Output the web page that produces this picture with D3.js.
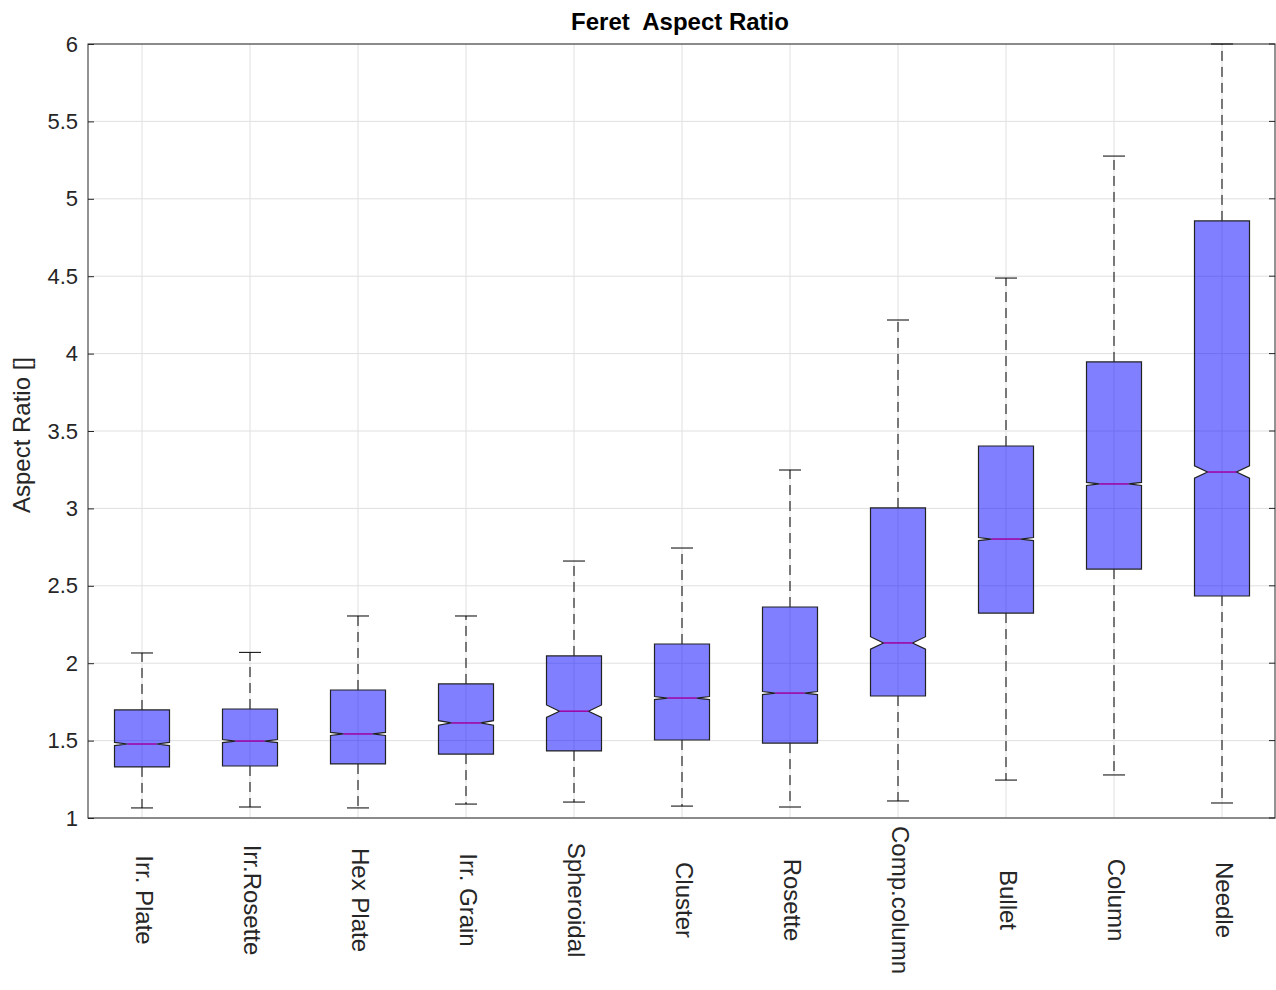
<!DOCTYPE html><html><head><meta charset="utf-8">
<script src="https://cdn.jsdelivr.net/npm/d3@7"></script>
<style>body{margin:0;background:#fff}text{font-family:Arial,"Liberation Sans",sans-serif}</style></head><body>
<svg id="c" width="1276" height="990"></svg>
<script>
const categories=["Irr. Plate","Irr.Rosette","Hex Plate","Irr. Grain","Spheroidal","Cluster","Rosette","Comp.column","Bullet","Column","Needle"];
const whiskerLow=[1.065,1.071,1.065,1.09,1.103,1.077,1.071,1.11,1.245,1.278,1.097];
const q1=[1.330,1.336,1.349,1.413,1.433,1.504,1.484,1.788,2.324,2.608,2.434];
const median=[1.478,1.497,1.543,1.614,1.69,1.775,1.807,2.131,2.802,3.158,3.235];
const q3=[1.698,1.704,1.827,1.866,2.047,2.124,2.363,3.003,3.403,3.946,4.857];
const whiskerHigh=[2.066,2.07,2.305,2.305,2.66,2.744,3.248,4.217,4.488,5.276,6.0];
const notch=[0.01,0.01,0.01,0.015,0.04,0.01,0.01,0.04,0.01,0.01,0.04];
const yTicks=[1,1.5,2,2.5,3,3.5,4,4.5,5,5.5,6];
const L=88,R=1276,T=44,B=818;
const svg=d3.select("#c");
const x=d3.scaleBand().domain(categories).range([L,R]);
const y=d3.scaleLinear().domain([1,6]).range([B,T]);
svg.append("g").selectAll("line").data(yTicks).join("line").attr("x1",L).attr("x2",R).attr("y1",d=>y(d)).attr("y2",d=>y(d)).attr("stroke","#e0e0e0");
svg.append("g").selectAll("line").data(categories).join("line").attr("y1",T).attr("y2",B).attr("x1",d=>x(d)+x.bandwidth()/2).attr("x2",d=>x(d)+x.bandwidth()/2).attr("stroke","#e0e0e0");
const bw=55,inset=13,cap=22;
categories.forEach((c,i)=>{
  const cx=x(c)+x.bandwidth()/2, xl=cx-bw/2, xr=cx+bw/2;
  const g=svg.append("g");
  g.append("line").attr("x1",cx).attr("x2",cx).attr("y1",y(q3[i])).attr("y2",y(whiskerHigh[i])).attr("stroke","#000").attr("stroke-dasharray","10,6");
  g.append("line").attr("x1",cx).attr("x2",cx).attr("y1",y(q1[i])).attr("y2",y(whiskerLow[i])).attr("stroke","#000").attr("stroke-dasharray","10,6");
  [whiskerHigh[i],whiskerLow[i]].forEach(v=>g.append("line").attr("x1",cx-cap/2).attr("x2",cx+cap/2).attr("y1",y(v)).attr("y2",y(v)).attr("stroke","#000"));
  const nu=y(median[i]+notch[i]), nl=y(median[i]-notch[i]), m=y(median[i]);
  const p=[[xl,y(q3[i])],[xr,y(q3[i])],[xr,nu],[xr-inset,m],[xr,nl],[xr,y(q1[i])],[xl,y(q1[i])],[xl,nl],[xl+inset,m],[xl,nu]];
  g.append("path").attr("d","M"+p.join("L")+"Z").attr("fill","rgba(0,0,255,0.5)").attr("stroke","#222").attr("stroke-width",1.2);
  g.append("line").attr("x1",xl+inset).attr("x2",xr-inset).attr("y1",m).attr("y2",m).attr("stroke","#a000a0").attr("stroke-width",1.5);
});
svg.append("rect").attr("x",L).attr("y",T).attr("width",R-L-1).attr("height",B-T).attr("fill","none").attr("stroke","#262626");
const ay=svg.append("g").attr("transform",`translate(${L},0)`).call(d3.axisLeft(y).tickValues(yTicks).tickSize(-6).tickPadding(10).tickFormat(d3.format("")));
ay.select(".domain").remove();ay.selectAll("text").attr("font-size",22).attr("fill","#262626");ay.selectAll("line").attr("stroke","#262626");
svg.append("g").selectAll("line").data(yTicks).join("line").attr("x1",R-7).attr("x2",R-1).attr("y1",d=>y(d)).attr("y2",d=>y(d)).attr("stroke","#262626");
svg.append("g").selectAll("text").data(categories).join("text")
 .attr("transform",d=>`translate(${x(d)+x.bandwidth()/2},900) rotate(90)`)
 .attr("text-anchor","middle").attr("dominant-baseline","middle").attr("font-size",24).attr("fill","#262626").text(d=>d);
svg.append("text").attr("x",680).attr("y",30).attr("text-anchor","middle").attr("font-size",24).attr("font-weight","bold").attr("fill","#000").attr("xml:space","preserve").text("Feret  Aspect Ratio");
svg.append("text").attr("transform",`translate(30,${(T+B)/2+4}) rotate(-90)`).attr("text-anchor","middle").attr("font-size",24).attr("fill","#262626").text("Aspect Ratio []");
</script></body></html>
